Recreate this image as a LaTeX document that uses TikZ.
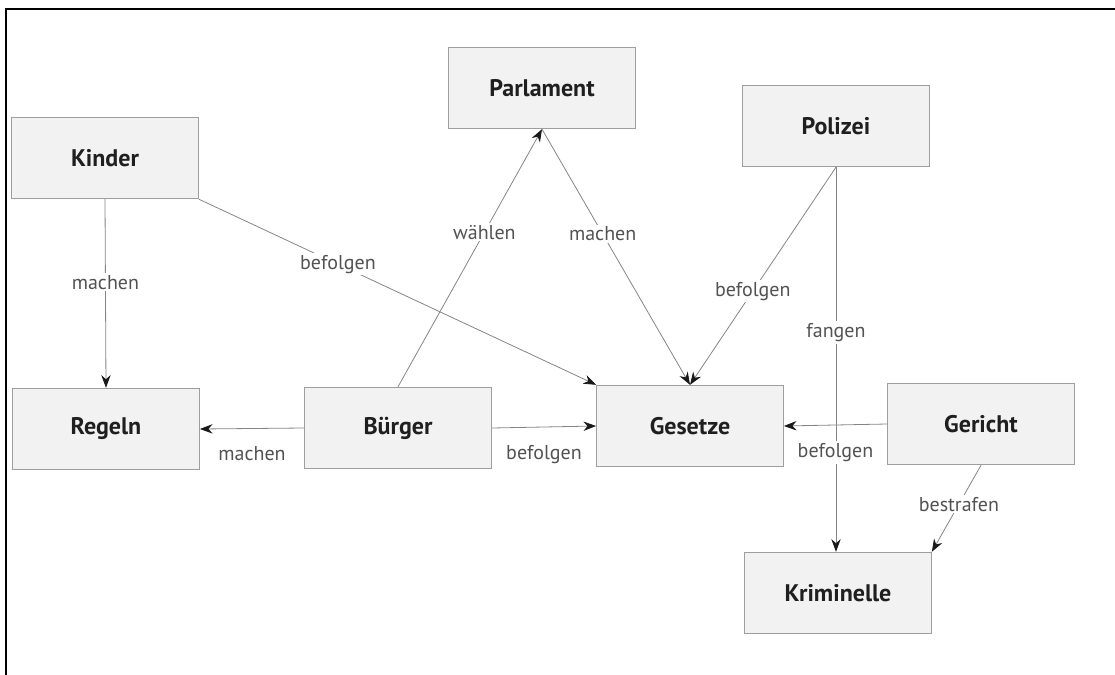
\documentclass[tikz,border=0pt]{standalone}
\usepackage{fontspec}
\setmainfont{PT Sans}
\usetikzlibrary{arrows.meta}

\begin{document}
\begin{tikzpicture}[x = 0.75pt, y = -0.75pt,
	box/.style	= {rectangle, draw = black!38, fill = black!5, line width = 0.8pt, minimum width = 140pt, minimum height = 61pt, text = black!88, font = \fontsize{18}{20}\selectfont\bfseries},
	lbl/.style	= {fill = white, inner sep = 1.5pt, text = black!68, font = \fontsize{15}{17}\selectfont},
	->/.style	= {draw = black!48, line width = 0.6pt, -{Stealth[length = 9.5pt, width = 7pt, color = black!90]}}]

\useasboundingbox (0, 0) rectangle (1115, 675);
\draw[line width = 2pt]	(6, 675) -- (6, 9) -- (1115, 9);

\path	(105, 158)	node(kinder)		[box]	{Kinder}
		(542, 88)	node(parlament)		[box]	{Parlament}
		(836, 126)	node(polizei)		[box]	{Polizei}
		(106, 429)	node(regeln)		[box]	{Regeln}
		(398, 428)	node(buerger)		[box]	{Bürger}
		(690, 426)	node(gesetze)		[box]	{Gesetze}
		(981, 424)	node(gericht)		[box]	{Gericht}
		(838, 593)	node(kriminelle)	[box]	{Kriminelle};

\draw[->]	(kinder.south)			-- node[lbl, pos = 0.44]	{machen}	(regeln.north);
\draw[->]	(kinder.south east)		-- node[lbl, pos = 0.35]	{befolgen}	(gesetze.north west);
\draw[->]	(buerger.north)			-- node[lbl, pos = 0.6]		{wählen}	(parlament.south);
\draw[->]	(parlament.south)		-- node[lbl, pos = 0.41]	{machen}	(gesetze.north);
\draw[->]	(polizei.south)			-- node[lbl, pos = 0.57]	{befolgen}	(gesetze.north);
\draw[->]	(polizei.south)			-- node[lbl, pos = 0.43]	{fangen}	(polizei.south |- kriminelle.north);

\draw[->]	(buerger.west)			-- node[lbl, below = 12pt]	{machen}	(regeln.east);
\draw[->]	(buerger.east)			-- node[lbl, below = 12pt]	{befolgen}	(gesetze.west);
\draw[->]	(gericht.west)			-- node[lbl, below = 12pt]	{befolgen}	(gesetze.east);
\draw[->]	(gericht.south)			-- node[lbl, pos = 0.45]	{bestrafen}	(kriminelle.north east);
\end{tikzpicture}
\end{document}
